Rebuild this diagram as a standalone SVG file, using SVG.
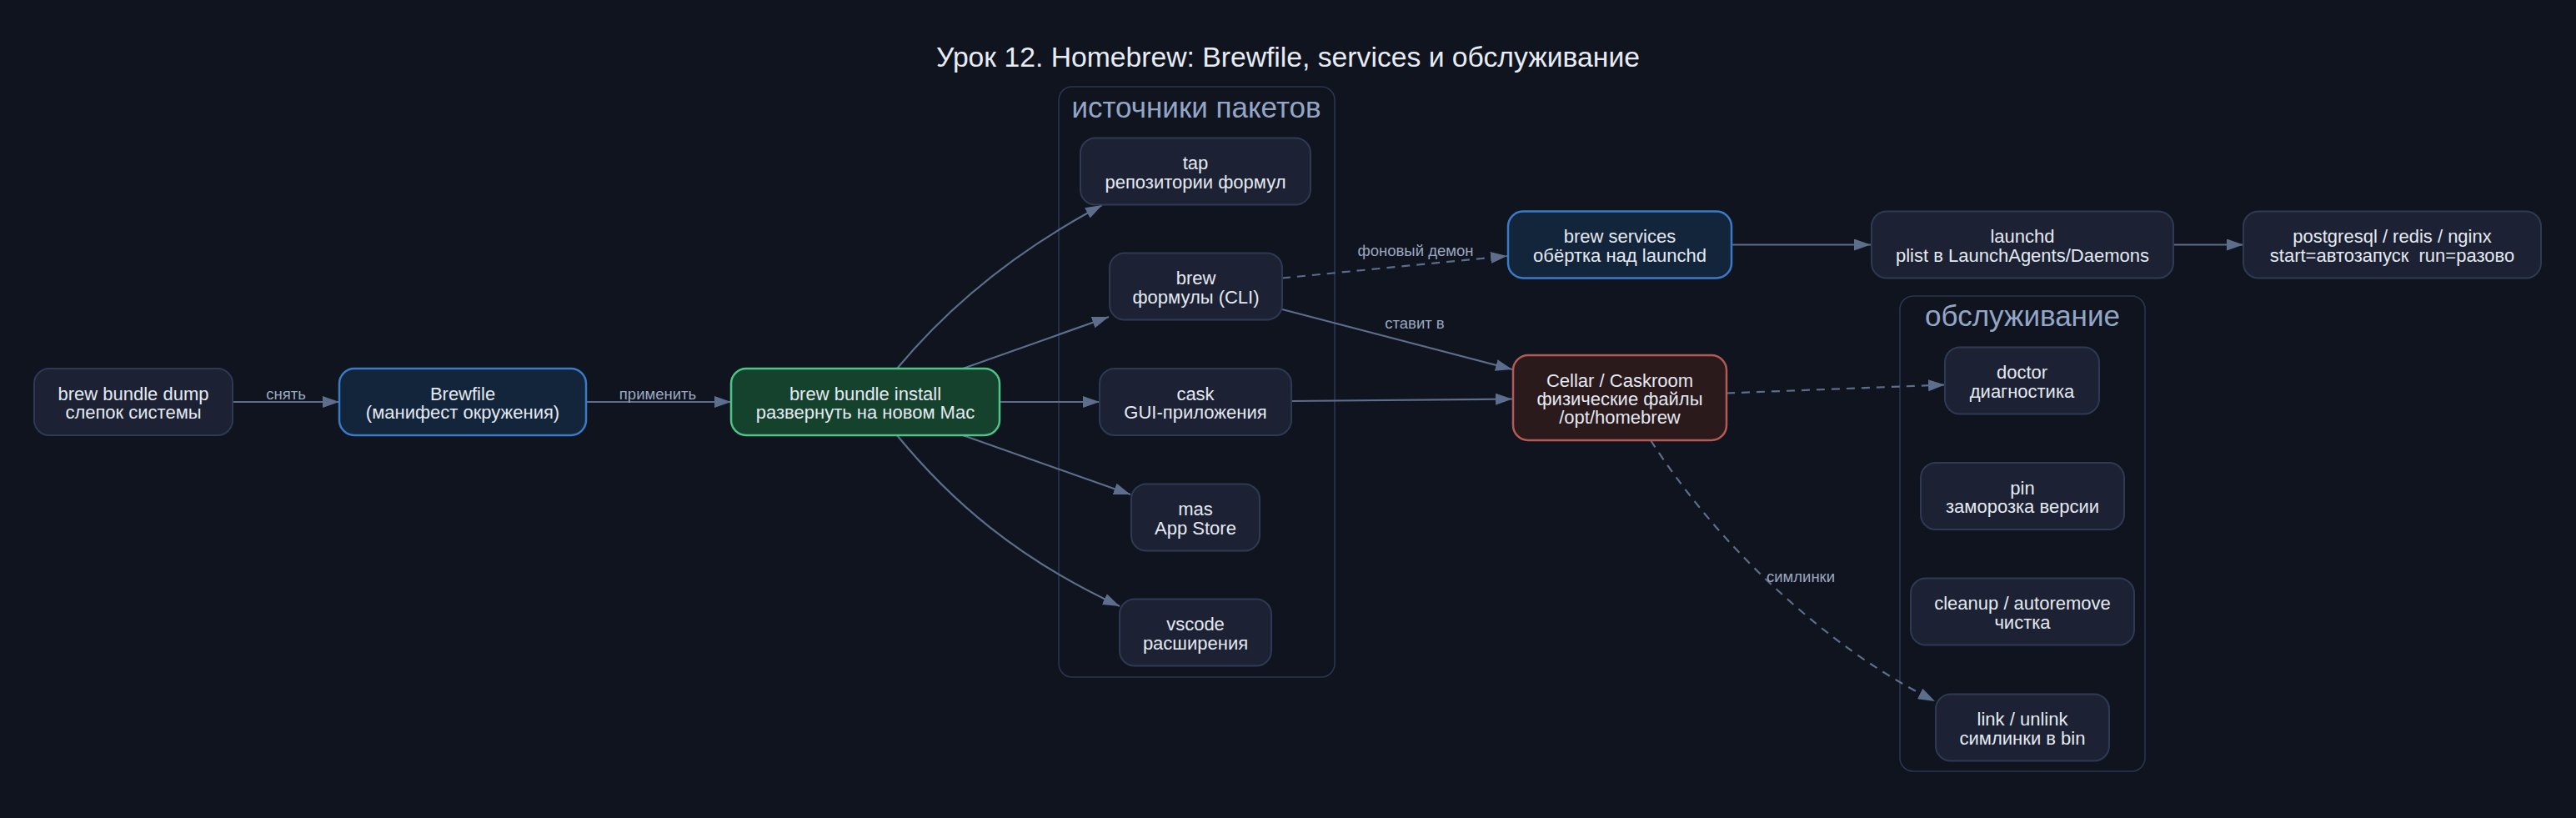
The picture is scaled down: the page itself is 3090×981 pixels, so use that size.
<svg xmlns="http://www.w3.org/2000/svg" width="3090" height="981" viewBox="0 0 3090 981">
<style>
text{font-family:"Liberation Sans",Arial,"Noto Sans",sans-serif}
.title{font-size:33.7px;fill:#e8ecf4;text-anchor:middle}
.cl{fill:none;stroke:#2a3550;stroke-width:1.6}
.cll{font-size:35px;fill:#94a6c6;text-anchor:middle}
.n{fill:#1c2233;stroke:#2e3a54;stroke-width:2}
.blue{fill:#13253b;stroke:#3a7bc8;stroke-width:2.5}
.green{fill:#15422c;stroke:#4fc487;stroke-width:2.5}
.red{fill:#2b1a1b;stroke:#b35a56;stroke-width:2.5}
.t{font-size:22px;fill:#e4e9f2;text-anchor:middle}
.e{fill:none;stroke:#5d6d8c;stroke-width:2.2}
.d{stroke-dasharray:10,8}
.el{font-size:18.5px;fill:#9aa7c0;text-anchor:middle}
</style>
<defs>
<marker id="ah" markerUnits="userSpaceOnUse" markerWidth="20" markerHeight="14" viewBox="0 0 20 14" refX="20" refY="7" orient="auto">
<path d="M0,0 L20,7 L0,14 z" fill="#5d6d8c"/>
</marker>
</defs>
<rect width="3090" height="981" fill="#10141f"/>
<text class="title" x="1545" y="80">Урок 12. Homebrew: Brewfile, services и обслуживание</text>

<g id="cluster_sources">
<rect class="cl" x="1270" y="104" width="331" height="708" rx="16"/>
<text class="cll" x="1435" y="141">источники пакетов</text>
</g>
<g id="cluster_maint">
<rect class="cl" x="2279" y="355" width="294" height="570" rx="16"/>
<text class="cll" x="2426" y="391">обслуживание</text>
</g>

<g id="edges">
<path class="e" d="M279,482 L407,482" marker-end="url(#ah)"/>
<text class="el" x="343" y="479">снять</text>
<path class="e" d="M703,482 L877,482" marker-end="url(#ah)"/>
<text class="el" x="789" y="479">применить</text>
<path class="e" d="M1076,442 C1140,365 1220,300 1322,246" marker-end="url(#ah)"/>
<path class="e" d="M1155,442 L1330,380" marker-end="url(#ah)"/>
<path class="e" d="M1199,482 L1319,482" marker-end="url(#ah)"/>
<path class="e" d="M1155,522 L1356,593" marker-end="url(#ah)"/>
<path class="e" d="M1076,522 C1140,600 1220,670 1343,727" marker-end="url(#ah)"/>
<path class="e d" d="M1538,333.5 L1808,307" marker-end="url(#ah)"/>
<text class="el" x="1698" y="307">фоновый демон</text>
<path class="e" d="M1538,371 C1640,398 1730,421 1814,443" marker-end="url(#ah)"/>
<text class="el" x="1697" y="394">ставит в</text>
<path class="e" d="M1549,481 L1814,478.5" marker-end="url(#ah)"/>
<path class="e" d="M2077,293.5 L2244,293.5" marker-end="url(#ah)"/>
<path class="e" d="M2607,293.5 L2691,293.5" marker-end="url(#ah)"/>
<path class="e d" d="M2071,471.5 L2333,461.5" marker-end="url(#ah)"/>
<path class="e d" d="M1980,528 C2020,590 2070,650 2127,703 C2180,752 2240,800 2321,841" marker-end="url(#ah)"/>
<text class="el" x="2160" y="698">симлинки</text>
</g>

<g id="dump">
<rect class="n" x="41" y="442" width="238" height="80" rx="18"/>
<text class="t" x="160" y="479.5">brew bundle dump</text>
<text class="t" x="160" y="502">слепок системы</text>
</g>
<g id="brewfile">
<rect class="blue" x="407" y="442" width="296" height="80" rx="18"/>
<text class="t" x="555" y="479.5">Brewfile</text>
<text class="t" x="555" y="502">(манифест окружения)</text>
</g>
<g id="install">
<rect class="green" x="877" y="442" width="322" height="80" rx="18"/>
<text class="t" x="1038" y="479.5">brew bundle install</text>
<text class="t" x="1038" y="502">развернуть на новом Mac</text>
</g>
<g id="tap">
<rect class="n" x="1296" y="165.5" width="276" height="80" rx="18"/>
<text class="t" x="1434" y="203">tap</text>
<text class="t" x="1434" y="225.5">репозитории формул</text>
</g>
<g id="brew">
<rect class="n" x="1331" y="303.5" width="207" height="80" rx="18"/>
<text class="t" x="1434.5" y="341">brew</text>
<text class="t" x="1434.5" y="363.5">формулы (CLI)</text>
</g>
<g id="cask">
<rect class="n" x="1319" y="442" width="230" height="80" rx="18"/>
<text class="t" x="1434" y="479.5">cask</text>
<text class="t" x="1434" y="502">GUI-приложения</text>
</g>
<g id="mas">
<rect class="n" x="1357" y="580.5" width="154" height="80" rx="18"/>
<text class="t" x="1434" y="618">mas</text>
<text class="t" x="1434" y="640.5">App Store</text>
</g>
<g id="vscode">
<rect class="n" x="1343" y="718.5" width="182" height="80" rx="18"/>
<text class="t" x="1434" y="756">vscode</text>
<text class="t" x="1434" y="778.5">расширения</text>
</g>
<g id="services">
<rect class="blue" x="1809" y="253.5" width="268" height="80" rx="18"/>
<text class="t" x="1943" y="291">brew services</text>
<text class="t" x="1943" y="313.5">обёртка над launchd</text>
</g>
<g id="cellar">
<rect class="red" x="1815" y="426" width="256" height="102" rx="18"/>
<text class="t" x="1943" y="463.5">Cellar / Caskroom</text>
<text class="t" x="1943" y="485.5">физические файлы</text>
<text class="t" x="1943" y="507.5">/opt/homebrew</text>
</g>
<g id="launchd">
<rect class="n" x="2245" y="253.5" width="362" height="80" rx="18"/>
<text class="t" x="2426" y="291">launchd</text>
<text class="t" x="2426" y="313.5">plist в LaunchAgents/Daemons</text>
</g>
<g id="postgres">
<rect class="n" x="2691" y="253.5" width="357" height="80" rx="18"/>
<text class="t" x="2869.5" y="291">postgresql / redis / nginx</text>
<text class="t" x="2869.5" y="313.5" xml:space="preserve">start=автозапуск  run=разово</text>
</g>
<g id="doctor">
<rect class="n" x="2333" y="416.5" width="185" height="80" rx="18"/>
<text class="t" x="2425.5" y="454">doctor</text>
<text class="t" x="2425.5" y="476.5">диагностика</text>
</g>
<g id="pin">
<rect class="n" x="2304" y="555" width="244" height="80" rx="18"/>
<text class="t" x="2426" y="592.5">pin</text>
<text class="t" x="2426" y="615">заморозка версии</text>
</g>
<g id="cleanup">
<rect class="n" x="2292" y="693.5" width="268" height="80" rx="18"/>
<text class="t" x="2426" y="731">cleanup / autoremove</text>
<text class="t" x="2426" y="753.5">чистка</text>
</g>
<g id="link">
<rect class="n" x="2322" y="832.5" width="208" height="80" rx="18"/>
<text class="t" x="2426" y="870">link / unlink</text>
<text class="t" x="2426" y="892.5">симлинки в bin</text>
</g>
</svg>
